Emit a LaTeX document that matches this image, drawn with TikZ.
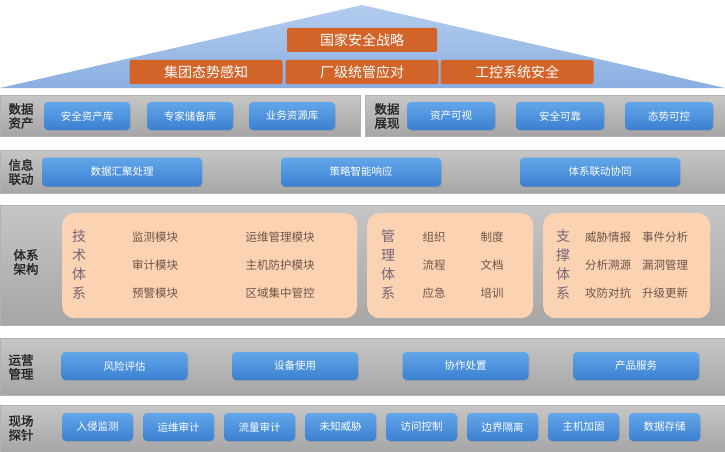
\documentclass[tikz,border=0pt]{standalone}
\usepackage{fontspec}
\setmainfont{Noto Sans CJK SC}
\newfontfamily\labelfont[FakeBold=1.6]{Noto Sans CJK SC}
\usetikzlibrary{shadows}

\definecolor{roofblue}{HTML}{B3CCEE}
\definecolor{roofpale}{HTML}{8AAFE0}
\definecolor{strat}{HTML}{D2642A}
\definecolor{btntop}{HTML}{62A6EA}
\definecolor{btnbot}{HTML}{3B80D0}
\definecolor{peach}{HTML}{FBD3B3}
\definecolor{peachtext}{HTML}{6E5348}
\definecolor{vtext}{HTML}{75667A}

\begin{document}
\begin{tikzpicture}[x=1pt,y=-1pt,
	panel/.style={anchor=north west,inner sep=0pt,top color=gray!45,bottom color=gray!70,draw=gray!60},
	stratbox/.style={fill=strat,text=white,rounded corners=2pt,minimum height=24pt,font=\fontsize{14}{16}\selectfont,inner sep=0pt},
	btn/.style={top color=btntop,bottom color=btnbot,text=white,rounded corners=4pt,minimum height=28pt,font=\fontsize{10.5}{12}\selectfont,inner sep=0pt,drop shadow={opacity=0.25,shadow xshift=1pt,shadow yshift=-1pt}},
	rowlabel/.style={align=left,text=black!85,font=\labelfont\fontsize{12.5}{14}\selectfont,inner sep=0pt},
	block/.style={anchor=north west,fill=peach,rounded corners=12pt,inner sep=0pt},
	item/.style={text=peachtext,font=\fontsize{11.5}{13}\selectfont,inner sep=0pt},
	vlabel/.style={text=vtext,align=center,font=\fontsize{14}{19}\selectfont,inner sep=0pt}]
\useasboundingbox (0,0) rectangle (725,452);

\shade[top color=roofblue,bottom color=roofpale] (0,88) -- (362,5) -- (725,88) -- cycle;
\node[stratbox,minimum width=150pt] (nat) at (362,40) {国家安全战略};
\foreach \t/\x [count=\i] in {集团态势感知/206,厂级统管应对/362,工控系统安全/517}
	\node[stratbox,minimum width=153pt] (s\i) at (\x,72) {\t};

\node[panel,minimum width=360pt,minimum height=41pt] (pa) at (0,95) {};
\node[panel,minimum width=360pt,minimum height=41pt] (pb) at (365,95) {};
\node[panel,minimum width=725pt,minimum height=43pt] (pc) at (0,150) {};
\node[panel,minimum width=725pt,minimum height=120pt] (pd) at (0,205) {};
\node[panel,minimum width=725pt,minimum height=57pt] (pe) at (0,338) {};
\node[panel,minimum width=725pt,minimum height=47pt] (pf) at (0,405) {};

\node[rowlabel] (la) at (21,116) {数据\\资产};
\node[rowlabel] (lb) at (387,116) {数据\\展现};
\node[rowlabel] (lc) at (21,172) {信息\\联动};
\node[rowlabel] (ld) at (26,262) {体系\\架构};
\node[rowlabel] (le) at (21,367) {运营\\管理};
\node[rowlabel] (lf) at (21,428) {现场\\探针};

\foreach \t/\x [count=\i] in {安全资产库/87,专家储备库/190,业务资源库/292}
	\node[btn,minimum width=86pt] (a\i) at (\x,116) {\t};
\foreach \t/\x [count=\i] in {资产可视/451,安全可靠/560,态势可控/669}
	\node[btn,minimum width=88pt] (b\i) at (\x,116) {\t};
\foreach \t/\x [count=\i] in {数据汇聚处理/122,策略智能响应/361,体系联动协同/600}
	\node[btn,minimum width=160pt,minimum height=29pt] (c\i) at (\x,172) {\t};

\node[block,minimum width=295pt,minimum height=105pt] (tech) at (62,213) {};
\node[block,minimum width=166pt,minimum height=105pt] (mgmt) at (367,213) {};
\node[block,minimum width=167pt,minimum height=105pt] (supp) at (543,213) {};
\node[vlabel] (vt) at (79,265) {技\\术\\体\\系};
\node[vlabel] (vm) at (388,265) {管\\理\\体\\系};
\node[vlabel] (vs) at (563,265) {支\\撑\\体\\系};
\foreach \l/\r/\y [count=\i] in {监测模块/运维管理模块/237,审计模块/主机防护模块/265,预警模块/区域集中管控/293}{
	\node[item] (t\i) at (155,\y) {\l};
	\node[item] (u\i) at (280,\y) {\r};
}
\foreach \l/\r/\y [count=\i] in {组织/制度/237,流程/文档/265,应急/培训/293}{
	\node[item] (m\i) at (434,\y) {\l};
	\node[item] (n\i) at (492,\y) {\r};
}
\foreach \l/\r/\y [count=\i] in {威胁情报/事件分析/237,分析溯源/漏洞管理/265,攻防对抗/升级更新/293}{
	\node[item] (g\i) at (608,\y) {\l};
	\node[item] (h\i) at (665,\y) {\r};
}

\foreach \t [count=\i] in {风险评估,设备使用,协作处置,产品服务}
	\node[btn,minimum width=126pt] (e\i) at ({124.5+170.5*(\i-1)},366) {\t};
\foreach \t [count=\i] in {入侵监测,运维审计,流量审计,未知威胁,访问控制,边界隔离,主机加固,数据存储}
	\node[btn,minimum width=71pt] (f\i) at ({97.5+81*(\i-1)},427) {\t};
\end{tikzpicture}
\end{document}
